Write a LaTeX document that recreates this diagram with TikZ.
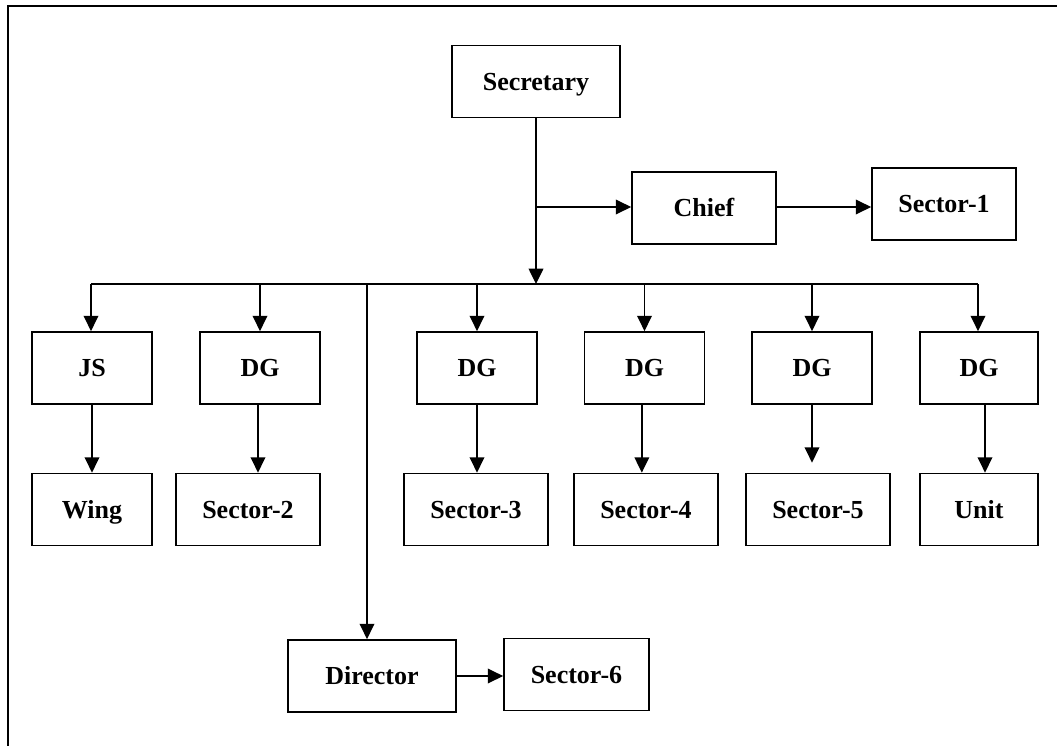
\documentclass[tikz,border=0pt]{standalone}
\usepackage{fontspec}
\setmainfont{Liberation Serif}
\usetikzlibrary{arrows.meta}
\begin{document}
\begin{tikzpicture}[x=0.75pt,y=-0.75pt,
  box/.style={draw,line width=1.3pt,inner sep=0pt,font=\fontsize{19.5}{22}\selectfont\bfseries,minimum height=54pt,text height=13pt,text depth=0pt},
  arr/.style={line width=1.1pt,-{Triangle[length=11.5pt,width=11pt]}},
  ln/.style={line width=1.1pt}]
\useasboundingbox (0,0) rectangle (1057,746);
% frame
\draw[line width=1.3pt] (8,746) -- (8,6) -- (1057,6);
% nodes
\node[box,minimum width=126pt] (sec) at (536,81.5) {Secretary};
\node[box,minimum width=108pt] (chief) at (704,208) {Chief};
\node[box,minimum width=108pt] (s1) at (944,204) {Sector-1};
\node[box,minimum width=90pt] (js) at (92,368) {JS};
\node[box,minimum width=90pt] (dg1) at (260,368) {DG};
\node[box,minimum width=90pt] (dg3) at (477,368) {DG};
\node[box,minimum width=90pt] (dg4) at (644.5,368) {DG};
\node[box,minimum width=90pt] (dg5) at (812,368) {DG};
\node[box,minimum width=88.5pt] (dg6) at (979,368) {DG};
\node[box,minimum width=90pt] (wing) at (92,509.5) {Wing};
\node[box,minimum width=108pt] (s2) at (248,509.5) {Sector-2};
\node[box,minimum width=108pt] (s3) at (476,509.5) {Sector-3};
\node[box,minimum width=108pt] (s4) at (646,509.5) {Sector-4};
\node[box,minimum width=108pt] (s5) at (818,509.5) {Sector-5};
\node[box,minimum width=88.5pt] (unit) at (979,509.5) {Unit};
\node[box,minimum width=126pt] (dir) at (372,676) {Director};
\node[box,minimum width=108.75pt] (s6) at (576.5,674.5) {Sector-6};
% coordinates
\coordinate (top) at (536,284);
\coordinate (bl) at (91,284);
\coordinate (br) at (978,284);
\coordinate (dl) at (367,284);
\coordinate (cb) at (536,207);
% connectors
\draw[arr] (sec.south) -- (top);
\draw[arr] (cb) -- (chief.west |- cb);
\draw[arr] (chief.east |- cb) -- (s1.west |- cb);
\draw[ln] (bl) -- (br);
\draw[arr] (bl) -- (bl |- js.north);
\draw[arr] (dg1.north |- top) -- (dg1.north);
\draw[arr] (dg3.north |- top) -- (dg3.north);
\draw[arr] (dg4.north |- top) -- (dg4.north);
\draw[arr] (dg5.north |- top) -- (dg5.north);
\draw[arr] (br) -- (br |- dg6.north);
\draw[arr] (dl) -- (dl |- dir.north);
\draw[arr] (js.south) -- (wing.north);
\draw[arr] ([xshift=-1.5pt]dg1.south) -- ([xshift=-1.5pt]dg1.south |- s2.north);
\draw[arr] (dg3.south) -- (dg3.south |- s3.north);
\draw[arr] ([xshift=-2pt]dg4.south) -- ([xshift=-2pt]dg4.south |- s4.north);
\draw[arr,shorten >=7.5pt] (dg5.south) -- (dg5.south |- s5.north);
\draw[arr] ([xshift=4.5pt]dg6.south) -- ([xshift=4.5pt]dg6.south |- unit.north);
\draw[arr] (dir.east) -- (s6.west |- dir.east);
\end{tikzpicture}
\end{document}
